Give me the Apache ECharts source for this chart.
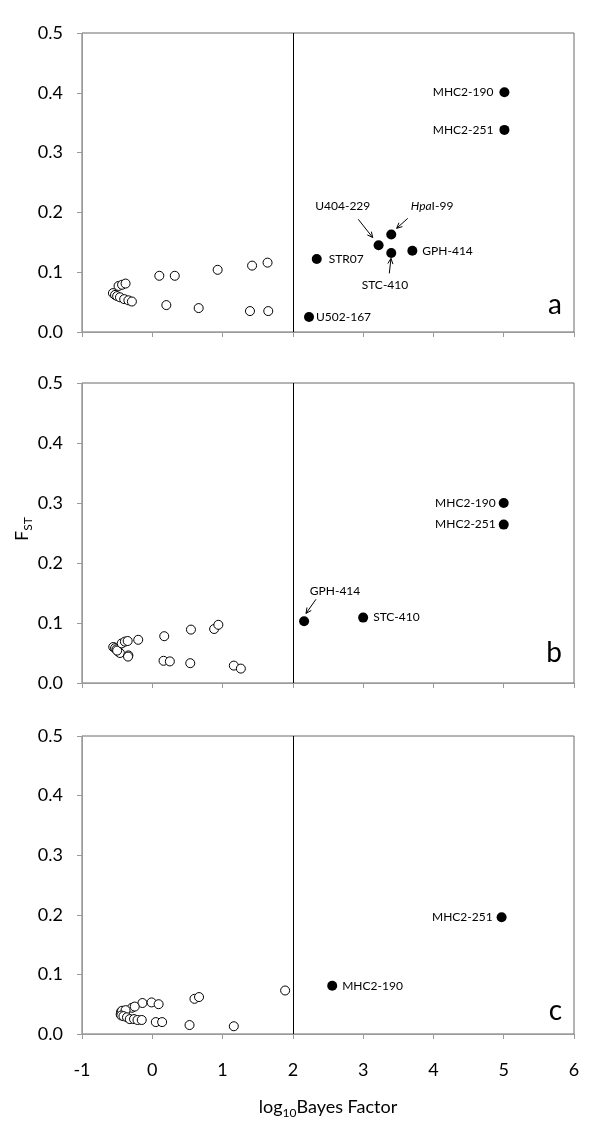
<!DOCTYPE html>
<html><head><meta charset="utf-8">
<script src="https://cdn.jsdelivr.net/npm/echarts@6/dist/echarts.min.js"></script>
<style>html,body{margin:0;padding:0;background:#fff}#c{width:600px;height:1144px}</style>
</head><body><div id="c"></div>
<script>
const FONT = 'Lato';
const xMin = -1, xMax = 6, xInterval = 1;
const yMin = 0, yMax = 0.5, yInterval = 0.1;
const thresholdX = 2;
const panelLetters = ['a', 'b', 'c'];
const xAxisTitle = ['log', '10', 'Bayes Factor'];
const yAxisTitle = ['F', 'ST'];

// ---- panel a ----
const aOpen = [[-0.56,0.065],[-0.53,0.062],[-0.50,0.060],[-0.48,0.077],[-0.43,0.079],[-0.38,0.081],
  [-0.46,0.058],[-0.40,0.055],[-0.34,0.053],[-0.29,0.051],[0.10,0.094],[0.32,0.094],[0.93,0.104],
  [1.42,0.111],[1.64,0.116],[0.20,0.045],[0.66,0.040],[1.39,0.035],[1.65,0.035]];
const aNames = ['MHC2-190','MHC2-251','HpaI-99','U404-229','STC-410','GPH-414','STR07','U502-167'];
const aX = [5.01, 5.01, 3.40, 3.22, 3.40, 3.70, 2.34, 2.23];
const aY = [0.401, 0.338, 0.163, 0.145, 0.132, 0.136, 0.122, 0.025];
const aNoteNames = ['U404-229', 'HpaI-99', 'STC-410'];
const aNoteX = [2.71, 3.98, 3.31];
const aNoteY = [0.210, 0.210, 0.079];
const aArrows = [[2.93,0.1885,3.136,0.158],[3.634,0.190,3.477,0.1734],[3.372,0.098,3.396,0.123]];

// ---- panel b ----
const bOpen = [[-0.555,0.060],[-0.53,0.058],[-0.51,0.056],[-0.48,0.052],[-0.46,0.050],[-0.50,0.054],
  [-0.435,0.066],[-0.39,0.069],[-0.35,0.070],[-0.34,0.046],[-0.345,0.044],[-0.20,0.072],[0.17,0.078],
  [0.55,0.089],[0.88,0.090],[0.94,0.097],[0.16,0.037],[0.25,0.036],[0.54,0.033],[1.16,0.029],[1.26,0.024]];
const bNames = ['MHC2-190','MHC2-251','GPH-414','STC-410'];
const bX = [5.0, 5.0, 2.16, 3.0];
const bY = [0.300, 0.264, 0.103, 0.109];
const bNoteNames = ['GPH-414'];
const bNoteX = [2.6];
const bNoteY = [0.153];
const bArrows = [[2.329,0.1395,2.187,0.116]];

// ---- panel c ----
const cOpen = [[1.89,0.073],[0.60,0.059],[0.665,0.062],[-0.14,0.052],[-0.01,0.053],[0.09,0.050],
  [-0.29,0.044],[-0.25,0.046],[-0.445,0.037],[-0.42,0.036],[-0.40,0.035],[-0.45,0.033],[-0.43,0.039],
  [-0.38,0.040],[-0.44,0.031],[-0.41,0.030],[-0.36,0.028],[-0.32,0.025],[-0.26,0.025],[-0.21,0.0235],
  [-0.15,0.0235],[0.05,0.020],[0.14,0.020],[0.53,0.015],[1.16,0.013]];
const cNames = ['MHC2-251','MHC2-190'];
const cX = [4.97, 2.56];
const cY = [0.196, 0.081];
const cNoteNames = [];
const cNoteX = [];
const cNoteY = [];
const cArrows = [];

// ---- styling / layout (not data) ----
const labelSide = {
  'a:MHC2-190': ['left', 6], 'a:MHC2-251': ['left', 6], 'a:GPH-414': ['right', 5],
  'a:STR07': ['right', 7], 'a:U502-167': ['right', 2],
  'b:MHC2-190': ['left', 3], 'b:MHC2-251': ['left', 3], 'b:STC-410': ['right', 5],
  'c:MHC2-251': ['left', 4], 'c:MHC2-190': ['right', 5]
};
const grids = [
  { left: 82, width: 492, top: 33, height: 299 },
  { left: 82, width: 492, top: 383, height: 300 },
  { left: 82, width: 492, top: 736, height: 298 }
];
const letterBaselines = [319, 667, 1025];

const panels = [
  { key: 'a', open: aOpen, names: aNames, xs: aX, ys: aY, nNames: aNoteNames, nX: aNoteX, nY: aNoteY, arrows: aArrows },
  { key: 'b', open: bOpen, names: bNames, xs: bX, ys: bY, nNames: bNoteNames, nX: bNoteX, nY: bNoteY, arrows: bArrows },
  { key: 'c', open: cOpen, names: cNames, xs: cX, ys: cY, nNames: cNoteNames, nX: cNoteX, nY: cNoteY, arrows: cArrows }
];

function fmtName(n) {
  if (n.indexOf('Hpa') === 0) return '{i|Hpa}{n|' + n.slice(3) + '}';
  return '{n|' + n + '}';
}
const labelRich = {
  i: { fontStyle: 'italic', fontFamily: FONT, fontSize: 12, color: '#000', fill: '#000' },
  n: { fontFamily: FONT, fontSize: 12, color: '#000', fill: '#000' }
};

function renderArrow(params, api) {
  const p1 = api.coord([api.value(0), api.value(1)]);
  const p2 = api.coord([api.value(2), api.value(3)]);
  const ang = Math.atan2(p2[1] - p1[1], p2[0] - p1[0]);
  const L = 6, A = Math.PI / 7;
  const h1 = [p2[0] - L * Math.cos(ang - A), p2[1] - L * Math.sin(ang - A)];
  const h2 = [p2[0] - L * Math.cos(ang + A), p2[1] - L * Math.sin(ang + A)];
  return {
    type: 'group', children: [
      { type: 'line', shape: { x1: p1[0], y1: p1[1], x2: p2[0], y2: p2[1] }, style: { stroke: '#000', lineWidth: 1 } },
      { type: 'polyline', shape: { points: [h1, p2, h2] }, style: { stroke: '#000', lineWidth: 1, fill: null } }
    ]
  };
}

function makeNoteRenderer(names) {
  return function (params, api) {
    const p = api.coord([api.value(0), api.value(1)]);
    return {
      type: 'text', x: p[0], y: p[1],
      style: { text: fmtName(names[params.dataIndex]), rich: labelRich, align: 'center', verticalAlign: 'middle',
        fill: '#000', fontFamily: FONT, fontSize: 12 }
    };
  };
}

const axisGrey = '#9a9a9a';
const xAxes = [], yAxes = [], series = [], graphics = [];
panels.forEach((p, i) => {
  const last = i === panels.length - 1;
  xAxes.push({
    type: 'value', gridIndex: i, min: xMin, max: xMax, interval: xInterval,
    axisLine: { show: true, onZero: false, lineStyle: { color: axisGrey, width: 1 } },
    axisTick: { show: true, length: 5, lineStyle: { color: axisGrey } },
    axisLabel: { show: last, margin: 27, fontFamily: FONT, fontSize: 18, color: '#000' },
    splitLine: { show: false }
  });
  yAxes.push({
    type: 'value', gridIndex: i, min: yMin, max: yMax, interval: yInterval,
    axisLine: { show: true, onZero: false, lineStyle: { color: axisGrey, width: 1 } },
    axisTick: { show: true, length: 5, lineStyle: { color: axisGrey } },
    axisLabel: { margin: 19, fontFamily: FONT, fontSize: 18, color: '#000', formatter: v => v.toFixed(1) },
    splitLine: { show: false }
  });
  series.push({
    type: 'scatter', xAxisIndex: i, yAxisIndex: i, data: p.open, symbol: 'circle', symbolSize: 9,
    itemStyle: { color: '#fff', borderColor: '#000', borderWidth: 1, opacity: 1 },
    markLine: {
      silent: true, symbol: 'none', label: { show: false },
      lineStyle: { color: '#000', width: 1, type: 'solid' },
      data: [{ xAxis: thresholdX }]
    },
    z: 3
  });
  series.push({
    type: 'scatter', xAxisIndex: i, yAxisIndex: i, symbol: 'circle', symbolSize: 10,
    itemStyle: { color: '#000', opacity: 1 },
    data: p.names.map((n, k) => {
      const side = labelSide[p.key + ':' + n];
      return {
        name: n, value: [p.xs[k], p.ys[k]],
        label: side ? { show: true, position: side[0], distance: side[1] } : { show: false }
      };
    }),
    label: { fontFamily: FONT, fontSize: 12, color: '#000', formatter: d => fmtName(d.name), rich: labelRich },
    z: 4
  });
  series.push({
    type: 'custom', xAxisIndex: i, yAxisIndex: i, renderItem: makeNoteRenderer(p.nNames),
    encode: { x: 0, y: 1 }, data: p.nNames.map((n, k) => [p.nX[k], p.nY[k]]), silent: true, z: 4
  });
  series.push({
    type: 'custom', xAxisIndex: i, yAxisIndex: i, renderItem: renderArrow,
    encode: { x: [0, 2], y: [1, 3] }, data: p.arrows, silent: true, z: 4
  });
  graphics.push({
    type: 'text', x: 562, y: letterBaselines[i], z: 10,
    style: { text: panelLetters[i], fontFamily: FONT, fontSize: 28, fill: '#000', align: 'right', verticalAlign: 'bottom' }
  });
});

graphics.push({
  type: 'text', x: 328, y: 1107, z: 10,
  style: {
    text: '{m|' + xAxisTitle[0] + '}{s|' + xAxisTitle[1] + '}{m|' + xAxisTitle[2] + '}',
    align: 'center', verticalAlign: 'middle',
    rich: {
      m: { fontFamily: FONT, fontSize: 18, fill: '#000', lineHeight: 24, verticalAlign: 'middle' },
      s: { fontFamily: FONT, fontSize: 12, fill: '#000', lineHeight: 12, verticalAlign: 'bottom' }
    }
  }
});
graphics.push({
  type: 'text', x: 22, y: 529, rotation: Math.PI / 2, z: 10,
  style: {
    text: '{m|' + yAxisTitle[0] + '}{s|' + yAxisTitle[1] + '}',
    align: 'center', verticalAlign: 'middle',
    rich: {
      m: { fontFamily: FONT, fontSize: 18, fill: '#000', lineHeight: 24, verticalAlign: 'middle' },
      s: { fontFamily: FONT, fontSize: 12, fill: '#000', lineHeight: 12, verticalAlign: 'bottom' }
    }
  }
});

const chart = echarts.init(document.getElementById('c'), null, { renderer: 'canvas' });
chart.setOption({
  animation: false,
  backgroundColor: '#fff',
  grid: grids.map(g => Object.assign({ show: true, borderColor: '#6a6a6a', borderWidth: 1, backgroundColor: 'transparent' }, g)),
  xAxis: xAxes,
  yAxis: yAxes,
  series: series,
  graphic: graphics
});
</script></body></html>
